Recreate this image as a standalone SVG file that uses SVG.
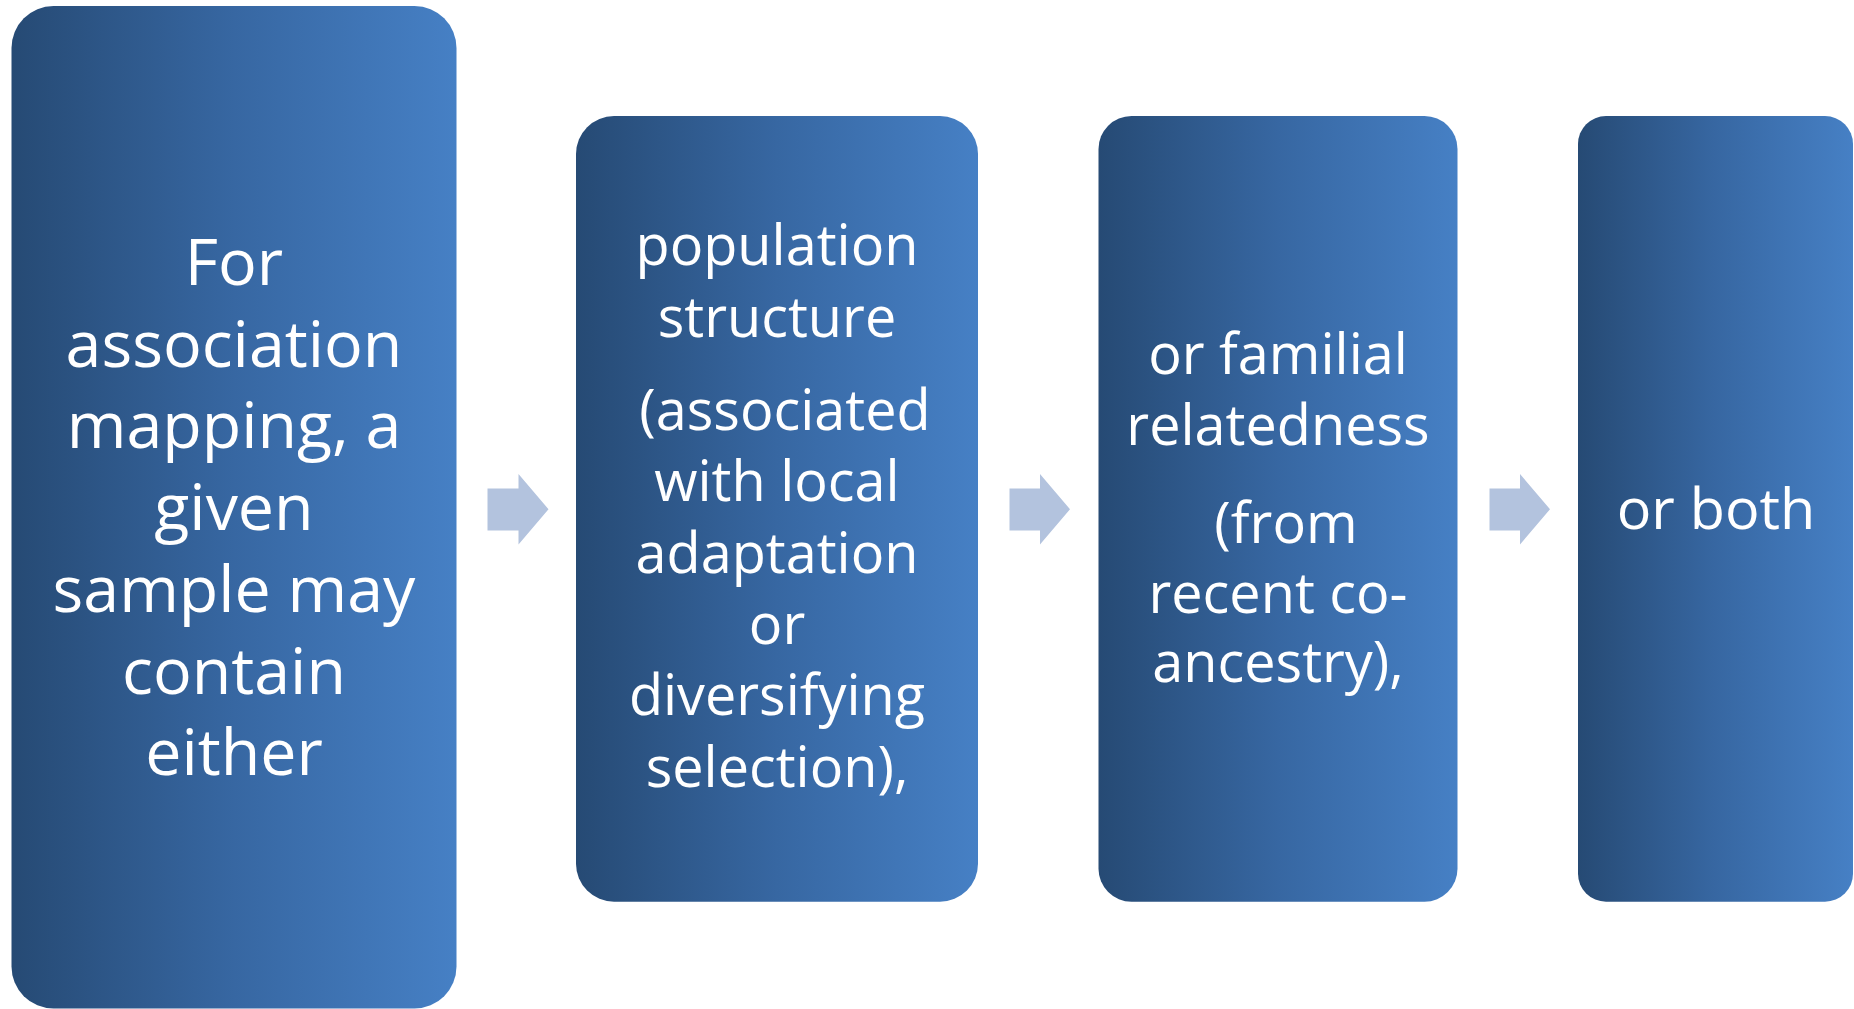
<svg xmlns="http://www.w3.org/2000/svg" width="1854" height="1009" viewBox="0 0 1854 1009">
  <defs>
    <linearGradient id="boxGrad" x1="0" y1="0" x2="1" y2="0">
      <stop offset="0" stop-color="#264a74"/>
      <stop offset="0.5" stop-color="#3767a2"/>
      <stop offset="1" stop-color="#4680c5"/>
    </linearGradient>
    <style>
      .box { fill: url(#boxGrad); }
      .arrow { fill: #b3c3de; }
      .t { fill: #ffffff; font-family: "Open Sans", "Noto Sans", "Liberation Sans", sans-serif; text-anchor: middle; }
      .big { font-size: 64.5px; }
      .mid { font-size: 55.8px; }
      .end { font-size: 57.5px; }
    </style>
  </defs>
  <rect width="1854" height="1009" fill="#ffffff"/>

  <g id="connectors">
    <polygon class="arrow" points="487.5,488.5 518.5,488.5 518.5,474 548.5,509.3 518.5,544.5 518.5,530.5 487.5,530.5"/>
    <polygon class="arrow" points="1009.5,488.5 1040,488.5 1040,474 1070,509.3 1040,544.5 1040,530.5 1009.5,530.5"/>
    <polygon class="arrow" points="1489.5,488.5 1520,488.5 1520,474 1550,509.3 1520,544.5 1520,530.5 1489.5,530.5"/>
  </g>

  <g id="node1">
    <rect class="box" x="11.5" y="6" width="445" height="1002.5" rx="42" ry="42"/>
    <text class="t big" x="234" y="285">For</text>
    <text class="t big" x="234" y="366.7">association</text>
    <text class="t big" x="234" y="448.4">mapping, a</text>
    <text class="t big" x="234" y="530.1">given</text>
    <text class="t big" x="234" y="611.8">sample may</text>
    <text class="t big" x="234" y="693.5">contain</text>
    <text class="t big" x="234" y="775.2">either</text>
  </g>

  <g id="node2">
    <rect class="box" x="576" y="116" width="402" height="785.7" rx="38" ry="38"/>
    <text class="t mid" x="777" y="265">population</text>
    <text class="t mid" x="777" y="336.5">structure</text>
    <text class="t mid" x="785" y="430">(associated</text>
    <text class="t mid" x="777" y="501.3">with local</text>
    <text class="t mid" x="777" y="572.6">adaptation</text>
    <text class="t mid" x="777" y="643.9">or</text>
    <text class="t mid" x="777" y="715.2">diversifying</text>
    <text class="t mid" x="777" y="786.5">selection),</text>
  </g>

  <g id="node3">
    <rect class="box" x="1098.5" y="116" width="359" height="785.7" rx="33" ry="33"/>
    <text class="t mid" x="1278" y="373.6">or familial</text>
    <text class="t mid" x="1278" y="444.6">relatedness</text>
    <text class="t mid" x="1286" y="542.7">(from</text>
    <text class="t mid" x="1278" y="612.5">recent co-</text>
    <text class="t mid" x="1278" y="682">ancestry),</text>
  </g>

  <g id="node4">
    <rect class="box" x="1578" y="116" width="275" height="785.7" rx="28" ry="28"/>
    <text class="t end" x="1716" y="528.5">or both</text>
  </g>
</svg>
